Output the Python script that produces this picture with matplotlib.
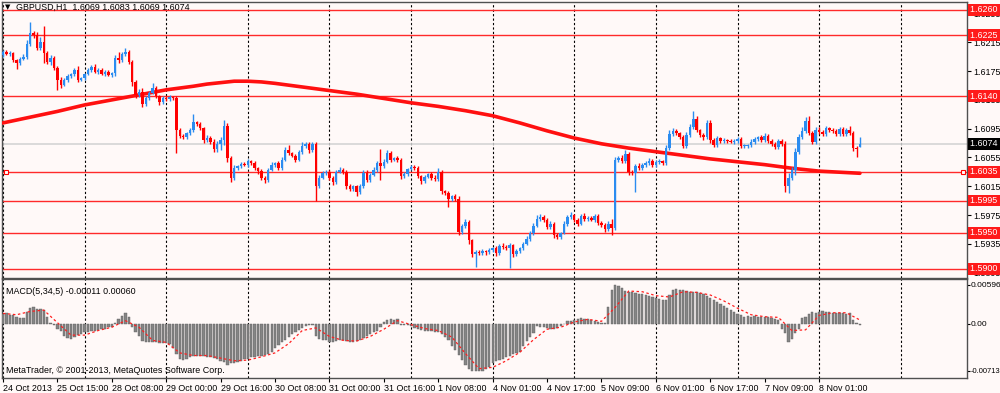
import numpy as np
import matplotlib
matplotlib.use("Agg")
from matplotlib import pyplot as plt

plt.rcParams['font.family'] = ['Liberation Sans', 'DejaVu Sans']

# H1 closes of GBPUSD (bar 0 = 24 Oct 2013 23:00)
first_open = 1.6198
closes = [
    1.6202, 1.6199, 1.6200, 1.6190, 1.6186, 1.6192, 1.6195, 1.6213, 1.6228, 1.6225, 1.6207, 1.6216, 1.6200, 1.6188, 1.6193, 1.6179,
    1.6163, 1.6156, 1.6163, 1.6168, 1.6171, 1.6177, 1.6163, 1.6165, 1.6171, 1.6177, 1.6181, 1.6174, 1.6177, 1.6171, 1.6174, 1.6170,
    1.6172, 1.6193, 1.6190, 1.6199, 1.6202, 1.6188, 1.6160, 1.6142, 1.6146, 1.6129, 1.6138, 1.6145, 1.6152, 1.6140, 1.6132, 1.6138,
    1.6136, 1.6139, 1.6138, 1.6093, 1.6085, 1.6083, 1.6089, 1.6093, 1.6104, 1.6101, 1.6096, 1.6079, 1.6082, 1.6077, 1.6067, 1.6074,
    1.6079, 1.6099, 1.6054, 1.6027, 1.6040, 1.6043, 1.6046, 1.6045, 1.6050, 1.6047, 1.6040, 1.6036, 1.6027, 1.6024, 1.6038, 1.6045,
    1.6047, 1.6040, 1.6052, 1.6065, 1.6061, 1.6057, 1.6052, 1.6063, 1.6071, 1.6074, 1.6065, 1.6074, 1.6015, 1.6027, 1.6033, 1.6035,
    1.6027, 1.6021, 1.6035, 1.6038, 1.6035, 1.6015, 1.6011, 1.6015, 1.6007, 1.6015, 1.6033, 1.6024, 1.6031, 1.6038, 1.6047, 1.6043,
    1.6049, 1.6061, 1.6052, 1.6054, 1.6052, 1.6029, 1.6032, 1.6039, 1.6042, 1.6040, 1.6029, 1.6022, 1.6028, 1.6032, 1.6027, 1.6025,
    1.6035, 1.6008, 1.6006, 1.5997, 1.6001, 1.5997, 1.5951, 1.5960, 1.5965, 1.5940, 1.5921, 1.5924, 1.5922, 1.5925, 1.5924, 1.5926,
    1.5929, 1.5922, 1.5932, 1.5931, 1.5929, 1.5933, 1.5921, 1.5925, 1.5929, 1.5935, 1.5942, 1.5950, 1.5960, 1.5970, 1.5972, 1.5968,
    1.5958, 1.5963, 1.5947, 1.5945, 1.5950, 1.5963, 1.5972, 1.5975, 1.5968, 1.5963, 1.5974, 1.5970, 1.5971, 1.5968, 1.5974, 1.5964,
    1.5961, 1.5956, 1.5963, 1.5957, 1.6052, 1.6054, 1.6050, 1.6060, 1.6035, 1.6033, 1.6043, 1.6040, 1.6045, 1.6047, 1.6050, 1.6045,
    1.6049, 1.6050, 1.6047, 1.6068, 1.6088, 1.6092, 1.6089, 1.6083, 1.6071, 1.6086, 1.6097, 1.6109, 1.6093, 1.6086, 1.6083, 1.6103,
    1.6079, 1.6072, 1.6082, 1.6078, 1.6079, 1.6078, 1.6077, 1.6078, 1.6081, 1.6071, 1.6071, 1.6072, 1.6077, 1.6081, 1.6083, 1.6079,
    1.6085, 1.6078, 1.6074, 1.6070, 1.6078, 1.6074, 1.6015, 1.6027, 1.6038, 1.6063, 1.6083, 1.6092, 1.6106, 1.6089, 1.6077, 1.6093,
    1.6090, 1.6088, 1.6096, 1.6093, 1.6092, 1.6088, 1.6095, 1.6088, 1.6093, 1.6089, 1.6068, 1.6067, 1.6074,
]
# wick lengths above / below the body, in pips
upper_pips = [
    3, 2, 3, 2, 2, 3, 4, 5, 15, 3, 4, 6, 22, 3, 4, 3,
    3, 4, 2, 3, 2, 3, 5, 2, 2, 3, 3, 4, 2, 3, 2, 3,
    2, 4, 8, 3, 5, 3, 2, 3, 4, 5, 2, 3, 6, 3, 2, 3,
    2, 3, 2, 3, 3, 2, 2, 3, 12, 2, 3, 2, 4, 3, 3, 4,
    5, 8, 4, 3, 4, 2, 3, 2, 3, 2, 3, 2, 3, 2, 3, 4,
    2, 3, 4, 5, 8, 2, 3, 3, 6, 3, 2, 3, 3, 4, 3, 2,
    3, 2, 3, 4, 3, 2, 3, 2, 2, 3, 4, 5, 3, 4, 3, 20,
    4, 5, 3, 2, 3, 2, 3, 2, 3, 2, 3, 2, 3, 2, 3, 4,
    5, 3, 2, 3, 2, 3, 4, 3, 4, 3, 2, 3, 2, 3, 2, 3,
    2, 3, 3, 4, 2, 3, 2, 3, 2, 3, 4, 3, 4, 5, 4, 3,
    3, 3, 2, 3, 2, 4, 3, 4, 2, 3, 3, 4, 2, 3, 2, 3,
    2, 3, 3, 6, 4, 3, 4, 5, 3, 2, 3, 4, 2, 3, 4, 3,
    2, 3, 2, 4, 5, 4, 3, 2, 3, 4, 4, 10, 3, 2, 3, 4,
    4, 3, 3, 2, 3, 2, 3, 2, 3, 2, 3, 2, 3, 3, 2, 3,
    4, 3, 3, 2, 3, 2, 4, 6, 4, 5, 4, 5, 5, 6, 3, 4,
    4, 3, 3, 2, 3, 3, 2, 3, 3, 6, 3, 3, 9,
]
lower_pips = [
    3, 2, 3, 2, 8, 3, 2, 3, 3, 4, 3, 3, 14, 3, 4, 3,
    14, 4, 2, 3, 2, 3, 3, 2, 3, 2, 3, 2, 3, 2, 3, 2,
    3, 4, 3, 2, 3, 3, 5, 4, 3, 4, 3, 3, 2, 3, 4, 2,
    3, 2, 3, 32, 3, 3, 2, 3, 3, 2, 3, 4, 3, 3, 4, 5,
    8, 6, 5, 6, 3, 2, 3, 2, 3, 2, 3, 4, 3, 4, 3, 2,
    3, 2, 3, 2, 3, 2, 3, 2, 3, 3, 4, 3, 20, 3, 2, 3,
    3, 4, 3, 2, 3, 4, 3, 3, 5, 3, 2, 3, 3, 2, 3, 20,
    3, 2, 3, 2, 3, 4, 3, 3, 2, 3, 3, 4, 3, 2, 3, 3,
    3, 4, 3, 11, 3, 3, 4, 3, 3, 5, 4, 18, 3, 3, 4, 3,
    3, 4, 3, 3, 3, 28, 4, 3, 3, 3, 2, 3, 3, 2, 3, 3,
    3, 3, 4, 3, 3, 2, 3, 2, 3, 3, 2, 3, 3, 2, 3, 3,
    3, 4, 3, 10, 3, 3, 3, 3, 4, 3, 26, 3, 3, 3, 2, 3,
    3, 3, 3, 3, 3, 3, 3, 3, 3, 3, 3, 3, 3, 3, 4, 3,
    4, 3, 3, 3, 3, 3, 2, 3, 3, 3, 3, 3, 3, 3, 3, 3,
    3, 3, 3, 3, 3, 3, 8, 10, 4, 8, 3, 3, 3, 3, 3, 3,
    3, 3, 3, 3, 3, 3, 3, 3, 3, 3, 4, 11, 0,
]

# moving average (thick red line)
ma_bars = [0, 8, 16, 24, 32, 40, 48, 56, 60, 64, 68, 72, 76, 80, 88, 96, 104, 112, 120, 128,
           136, 144, 152, 160, 168, 176, 184, 192, 200, 208, 216, 224, 232, 240, 248, 252]
ma_vals = [1.6103, 1.6111, 1.6119, 1.6128, 1.6135, 1.6142, 1.6149, 1.6154, 1.6157, 1.6159,
           1.6161, 1.6161, 1.6160, 1.6158, 1.6153, 1.6148, 1.6143, 1.6137, 1.6131, 1.6126,
           1.6120, 1.6113, 1.6103, 1.6092, 1.6082, 1.6074, 1.6068, 1.6063, 1.6058, 1.6053,
           1.6049, 1.6045, 1.6040, 1.6036, 1.6034, 1.6033]

levels = [1.6260, 1.6225, 1.6140, 1.6035, 1.5995, 1.5950, 1.5900]
last_price = 1.6074
price_ticks = [1.6255, 1.6215, 1.6175, 1.6135, 1.6095, 1.6055, 1.6015, 1.5975, 1.5935, 1.5895]

# MACD(5,34,5) main line, x 0.001
macd_k = [
    1.5, 1.6, 1.4, 1.3, 1.0, 0.9, 0.9, 1.8, 2.4, 2.6, 2.3, 2.2, 2.1, 1.1, 0.2, -0.1,
    -0.7, -1.1, -1.9, -2.2, -2.3, -2.0, -1.7, -1.5, -1.3, -1.2, -1.1, -1.0, -0.9, -0.8, -0.7, -0.5,
    -0.4, 0.2, 0.8, 1.2, 1.6, 1.0, -0.4, -1.2, -1.9, -2.6, -2.8, -2.8, -2.8, -2.8, -2.9, -2.9,
    -2.9, -3.0, -3.6, -4.5, -5.4, -5.5, -5.3, -5.0, -4.9, -4.8, -4.8, -4.9, -5.0, -5.1, -5.2, -5.3,
    -5.6, -5.8, -6.2, -6.0, -5.9, -5.8, -5.7, -5.4, -5.3, -5.1, -5.0, -4.9, -4.8, -4.7, -4.5, -4.2,
    -3.7, -3.2, -2.8, -2.5, -2.0, -1.6, -1.2, -0.9, -0.6, -0.3, -0.2, -0.2, -1.8, -2.3, -2.4, -2.5,
    -2.7, -2.8, -2.6, -2.5, -2.5, -2.6, -2.7, -2.7, -2.6, -2.4, -2.2, -1.9, -1.6, -1.3, -1.0, -0.4,
    0.3, 0.6, 0.7, 0.6, 0.7, -0.1, -0.2, -0.2, -0.3, -0.6, -0.7, -0.9, -1.0, -1.1, -1.1, -1.2,
    -1.3, -1.5, -2.0, -2.5, -3.3, -4.0, -4.7, -5.5, -6.2, -6.8, -7.1, -7.2, -7.2, -7.1, -6.9, -6.5,
    -6.0, -5.6, -5.5, -5.3, -5.0, -4.8, -4.6, -4.4, -4.2, -3.3, -2.6, -2.0, -1.4, -0.3, -0.4, -0.5,
    -0.6, -0.7, -0.7, -0.6, -0.3, 0.0, 0.4, 0.5, 0.6, 0.8, 0.9, 0.8, 0.8, 0.6, 0.4, 0.3,
    0.2, 0.1, 2.6, 5.2, 5.9, 5.7, 5.4, 5.0, 4.9, 4.8, 4.7, 4.6, 4.5, 4.4, 4.2, 4.1,
    4.0, 3.8, 3.7, 3.6, 4.4, 5.1, 5.3, 5.2, 5.1, 5.0, 4.9, 4.8, 4.8, 4.7, 4.5, 4.2,
    3.9, 3.6, 3.3, 3.0, 2.7, 2.4, 2.1, 1.8, 1.5, 1.3, 1.1, 1.2, 1.1, 1.2, 1.1, 1.0,
    1.1, 1.0, 0.9, 0.8, 0.6, -0.7, -1.4, -2.7, -2.3, -1.4, -0.7, 0.9, 1.1, 1.5, 1.8, 1.7,
    1.8, 1.9, 1.8, 1.8, 1.7, 1.7, 1.6, 1.6, 1.5, 1.6, 0.6, 0.1, -0.11,
]
# signal line, x 0.001, read every 4 bars
signal_bars = list(range(0, 253, 4))
signal_k = [
    1.6, 1.4, 1.9, 2.1, 0.2, -1.7, -1.7, -1.0, -0.5, 0.5, -0.5, -2.5, -2.8, -4.4, -4.8, -4.8,
    -5.2, -5.6, -5.5, -5.0, -4.4, -3.0, -1.0, -0.6, -1.9, -2.5, -2.6, -1.9, -0.8, 0.5, -0.1, -0.7,
    -1.0, -2.0, -4.5, -6.8, -6.6, -5.6, -4.3, -2.4, -0.8, -0.5, 0.3, 0.7, 0.4, 2.5, 5.0, 4.9,
    4.3, 4.1, 4.9, 4.8, 4.4, 3.5, 2.4, 1.4, 1.1, 1.0, -1.0, -0.9, 1.3, 1.7, 1.7, 0.6,
]

time_labels = ["24 Oct 2013", "25 Oct 15:00", "28 Oct 08:00", "29 Oct 00:00", "29 Oct 16:00",
               "30 Oct 08:00", "31 Oct 00:00", "31 Oct 16:00", "1 Nov 08:00", "4 Nov 01:00",
               "4 Nov 17:00", "5 Nov 09:00", "6 Nov 01:00", "6 Nov 17:00", "7 Nov 09:00",
               "8 Nov 01:00"]

bg = "#fff9f8"
bull = "#2b8cf0"
bear = "#ff0000"
frame = "#505050"
fs = 6.4

c = np.array(closes)
o = np.concatenate([[first_open], c[:-1]])
o[-1] = 1.6069
h = np.maximum(o, c) + np.array(upper_pips) * 0.0001
l = np.minimum(o, c) - np.array(lower_pips) * 0.0001
x = np.arange(len(c))
up = c >= o
cols = np.where(up, bull, bear)

fig = plt.figure(figsize=(10, 3.93), dpi=100, facecolor=bg)
ax = fig.add_axes([0.0023, 0.2935, 0.9644, 0.7014], facecolor=bg)
ax2 = fig.add_axes([0.0023, 0.0390, 0.9644, 0.2505], facecolor=bg, sharex=ax)

xmax = 283.4
for g in range(0, 284, 24):
    ax.axvline(g, color="black", lw=0.8, ls=(0, (2, 2)), zorder=1)
    ax2.axvline(g, color="black", lw=0.8, ls=(0, (2, 2)), zorder=1)

# price panel
ax.axhline(last_price, color="#d4d4d4", lw=1.2, zorder=1)
for lv in levels:
    ax.axhline(lv, color="#ff2a2a", lw=1.0, zorder=2)
ax.plot([0.004, 0.996], [1.6035, 1.6035], transform=ax.get_yaxis_transform(),
        ls="none", marker="s", ms=3, mfc="white", mec="red", mew=0.8, zorder=6, clip_on=False)
ax.plot(ma_bars, ma_vals, color="#ff1010", lw=2.6, zorder=3, solid_capstyle="round",
        solid_joinstyle="round")
ax.vlines(x, l, h, colors=cols, lw=1.0, zorder=4)
ax.bar(x, np.maximum(np.abs(c - o), 0.00007), bottom=np.minimum(o, c), width=0.72,
       color=cols, linewidth=0, zorder=5)

ax.set_xlim(-0.2, xmax)
ax.set_ylim(1.58879, 1.62711)
ax.yaxis.tick_right()
ax.set_yticks(price_ticks)
ax.set_yticklabels([f"{t:.4f}" for t in price_ticks])
ax.tick_params(axis="y", length=3, width=0.8, labelsize=fs, pad=2, colors="black")
ax.tick_params(axis="x", bottom=False, labelbottom=False)
for s in ax.spines.values():
    s.set_color(frame)
    s.set_linewidth(1.0)

box_kw = dict(color="white", fontsize=fs, va="center", ha="left", clip_on=False, zorder=10,
              transform=ax.get_yaxis_transform())
for lv in levels:
    ax.text(1.003, lv, f"{lv:.4f} ", bbox=dict(boxstyle="square,pad=0.15", fc="#ff1a1a", ec="none"), **box_kw)
ax.text(1.003, last_price, f"{last_price:.4f} ", bbox=dict(boxstyle="square,pad=0.15", fc="black", ec="none"), **box_kw)

fig.text(0.005, 0.981, "\u25bc", fontsize=5, va="center", ha="left", family="DejaVu Sans")
fig.text(0.016, 0.981, "GBPUSD,H1  1.6069 1.6083 1.6069 1.6074", fontsize=fs, va="center", ha="left")

# MACD panel
macd = np.array(macd_k) * 0.001
ax2.bar(x, macd, width=0.66, color="#858585", edgecolor="#5e5e5e", linewidth=0.3, zorder=3)
ax2.plot(signal_bars, np.array(signal_k) * 0.001, color="#ff2020", lw=0.9, ls=(0, (2, 2)), zorder=4)
ax2.set_ylim(-0.00817, 0.0068)
ax2.yaxis.tick_right()
ax2.set_yticks([0.00596, 0.0, -0.00713])
ax2.set_yticklabels(["0.00596", "0.00", "-0.00713"])
ax2.tick_params(axis="y", length=2, width=0.8, labelsize=6.0, pad=0.8)
ax2.get_yticklabels()[-1].set_fontsize(5.4)
ax2.set_xticks(list(range(0, 16 * len(time_labels), 16)))
ax2.set_xticklabels(time_labels, ha="left")
ax2.tick_params(axis="x", length=3, width=0.8, labelsize=fs, pad=1.5)
for s in ax2.spines.values():
    s.set_color(frame)
    s.set_linewidth(1.0)
ax2.text(0.004, 0.88, "MACD(5,34,5) -0.00011 0.00060", transform=ax2.transAxes,
         fontsize=fs, va="center", ha="left")
ax2.text(0.004, 0.07, "MetaTrader, \u00a9 2001-2013, MetaQuotes Software Corp.",
         transform=ax2.transAxes, fontsize=fs, va="center", ha="left")

fig.savefig("out.png", dpi=100, facecolor=bg)
